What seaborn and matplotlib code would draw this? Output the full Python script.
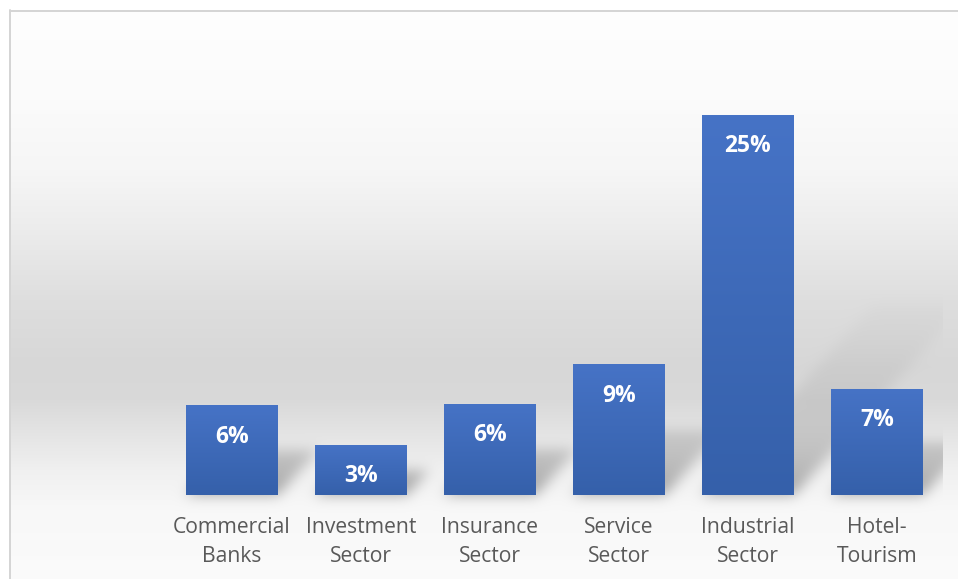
import numpy as np
import pandas as pd
import matplotlib
matplotlib.use("Agg")
import matplotlib.pyplot as plt
import seaborn as sns
from matplotlib.colors import LinearSegmentedColormap
from matplotlib.lines import Line2D

# Share of each sector (percent)
sectors = ["Commercial\nBanks", "Investment\nSector", "Insurance\nSector",
           "Service\nSector", "Industrial\nSector", "Hotel-\nTourism"]
shares = [5.9, 3.3, 6.0, 8.6, 25.0, 7.0]

sns.set_theme(style="white")
plt.rcParams["font.family"] = ["Open Sans", "DejaVu Sans"]

W, H, DPI = 958, 579, 100
fig = plt.figure(figsize=(W / DPI, H / DPI), dpi=DPI)
fig.patch.set_facecolor("white")

# background layer (chart-area gradient + bar shadows) spans the whole figure
bg_ax = fig.add_axes([0, 0, 1, 1], zorder=0)
bg_ax.set_axis_off()

ax = fig.add_axes([167.5 / W, 84 / H, 774 / W, 456 / H], zorder=1)
ax.patch.set_alpha(0)

df = pd.DataFrame({"sector": sectors, "share": shares})
sns.barplot(data=df, x="sector", y="share", ax=ax, color="#3e6bbb",
            width=0.713, saturation=1, linewidth=0)

# vertical gradient inside each bar
bar_cmap = LinearSegmentedColormap.from_list("bar", ["#3560aa", "#4673c6"])
grad = np.linspace(0, 1, 256)[:, None]
for p in ax.patches:
    x0, w, hgt = p.get_x(), p.get_width(), p.get_height()
    im = ax.imshow(grad, cmap=bar_cmap, origin="lower", aspect="auto",
                   extent=(x0, x0 + w, 0, hgt), zorder=2, interpolation="bilinear")
    im.set_clip_path(p)

ax.set_xlim(-0.5, 5.5)
ax.set_ylim(0, 30)
for s in ax.spines.values():
    s.set_visible(False)
ax.set_yticks([])
ax.set_xlabel("")
ax.set_ylabel("")
ax.tick_params(axis="x", length=0, pad=16, labelsize=15.2, labelcolor="#595959")
for lbl in ax.get_xticklabels():
    lbl.set_linespacing(1.47)

# value labels inside the top of each bar
for p, v in zip(ax.patches, shares):
    ax.annotate(f"{v:.0f}%", (p.get_x() + p.get_width() / 2, p.get_height()),
                xytext=(0, -22.5), textcoords="offset points", ha="center",
                va="center", color="white", fontsize=16.5, fontweight="bold",
                zorder=3)

# ---- background: vertical grey gradient of the chart area ----
stops_y = [10, 100, 170, 230, 300, 367, 400, 433, 470, 510, 579]
stops_v = [254, 251, 246, 236, 222, 215, 217, 228, 240, 248, 251]
rows = np.arange(H) + 0.5
col = np.interp(rows, stops_y, stops_v) / 255.0
img = np.repeat(col[:, None], W, axis=1)

# ---- soft perspective shadows cast up and to the right of each bar ----
yy, xx = np.mgrid[0:H, 0:W] + 0.5
alpha = np.zeros((H, W))
shear_x, shear_y = 0.45, 0.5
for p in ax.patches:
    (px0, py0), (px1, py1) = ax.transData.transform(
        [[p.get_x(), 0], [p.get_x() + p.get_width(), p.get_height()]])
    base = H - py0
    h = py1 - py0
    t = (base - yy) / shear_y
    inside = (t >= 0) & (t <= h) & (xx >= px0 + shear_x * t) & (xx <= px1 + shear_x * t)
    a = inside * 0.34 * np.exp(-np.clip(base - yy, 0, None) / 65.0)
    alpha = np.maximum(alpha, a)

sigma = 6.5
r = int(3 * sigma)
k = np.exp(-0.5 * (np.arange(-r, r + 1) / sigma) ** 2)
k /= k.sum()
alpha = np.apply_along_axis(lambda v: np.convolve(v, k, mode="same"), 1, alpha)
alpha = np.apply_along_axis(lambda v: np.convolve(v, k, mode="same"), 0, alpha)
right_edge = ax.transAxes.transform((1, 0))[0] + 1.5
alpha[:, xx[0] > right_edge] = 0
img = img * (1 - alpha)

# area outside the chart border stays white
img[:10, :] = 1.0
img[:, :10] = 1.0
rgb = np.dstack([img, img, img])
bg_ax.imshow(rgb, extent=(0, W, 0, H), origin="upper", aspect="auto",
             interpolation="bilinear")
bg_ax.set_xlim(0, W)
bg_ax.set_ylim(0, H)

# light chart border along the top and left
border_kw = dict(color="#d4d4d4", linewidth=1.4, transform=bg_ax.transData)
bg_ax.add_line(Line2D([10, W], [H - 10.5, H - 10.5], **border_kw))
bg_ax.add_line(Line2D([10.5, 10.5], [0, H - 10], **border_kw))

fig.savefig("out.png", dpi=DPI, facecolor="white")
